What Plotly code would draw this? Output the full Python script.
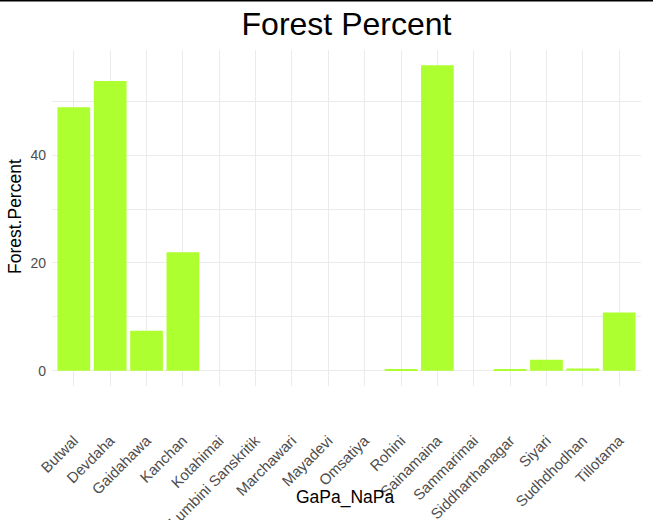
import plotly.graph_objects as go

categories = ["Butwal", "Devdaha", "Gaidahawa", "Kanchan", "Kotahimai",
              "Lumbini Sanskritik", "Marchawari", "Mayadevi", "Omsatiya", "Rohini",
              "Sainamaina", "Sammarimai", "Siddharthanagar", "Siyari", "Sudhdhodhan",
              "Tillotama"]
forest_percent = [48.9, 53.8, 7.4, 22.0, 0.0,
                  0.0, 0.0, 0.0, 0.0, 0.25,
                  56.7, 0.0, 0.25, 2.05, 0.4,
                  10.8]
y_tick_vals = [0, 20, 40]
y_tick_text = ["0", "20", "40"]

FONT = "Liberation Sans, Arial, sans-serif"
GRID = "#EBEBEB"

ymax = max(forest_percent)
yrange = [-0.05 * ymax, ymax * 1.05]

fig = go.Figure(go.Bar(
    x=categories, y=forest_percent,
    marker=dict(color="#ADFF2F", line=dict(width=0)),
    width=0.9,
))

fig.update_layout(
    width=653, height=520,
    margin=dict(l=52, r=12, t=50, b=134, autoexpand=False),
    paper_bgcolor="white", plot_bgcolor="white",
    font=dict(family=FONT, color="#4D4D4D"),
    showlegend=False,
    title=dict(text="Forest Percent", x=(52 + 641) / 2 / 653, xanchor="center",
               y=1 - 24 / 520, yanchor="middle",
               font=dict(size=32, color="black", family=FONT)),
    xaxis=dict(
        range=[-0.6, len(categories) - 0.4],
        tickangle=-45, tickfont=dict(size=15, color="#4D4D4D"),
        showgrid=True, gridcolor=GRID, gridwidth=1.1,
        zeroline=False, showline=False, ticks="",
        ticklabelstandoff=42, automargin=False,
    ),
    yaxis=dict(
        range=yrange,
        tickvals=y_tick_vals, ticktext=y_tick_text,
        tickfont=dict(size=14, color="#4D4D4D"),
        showgrid=True, gridcolor=GRID, gridwidth=1.1,
        minor=dict(dtick=10, tick0=0, showgrid=True, gridcolor=GRID, gridwidth=1),
        zeroline=False, showline=False, ticks="",
        ticklabelstandoff=5, automargin=False,
    ),
    annotations=[
        dict(text="GaPa_NaPa", xref="paper", yref="paper",
             x=(345 - 52) / (641 - 52), y=(386 - 497) / 336,
             xanchor="center", yanchor="middle", showarrow=False,
             font=dict(size=17.5, color="black", family=FONT)),
        dict(text="Forest.Percent", xref="paper", yref="paper",
             x=(15 - 52) / (641 - 52), y=(386 - 217) / 336, textangle=-90,
             xanchor="center", yanchor="middle", showarrow=False,
             font=dict(size=17.5, color="black", family=FONT)),
    ],
    shapes=[
        dict(type="line", xref="paper", yref="paper",
             x0=-0.2, x1=1.2, y0=(386 - 0.5) / 336, y1=(386 - 0.5) / 336,
             line=dict(color="black", width=2)),
    ],
)

fig.write_html("out.html", config={"displayModeBar": False},
               post_script="document.body.style.margin='0px';")
